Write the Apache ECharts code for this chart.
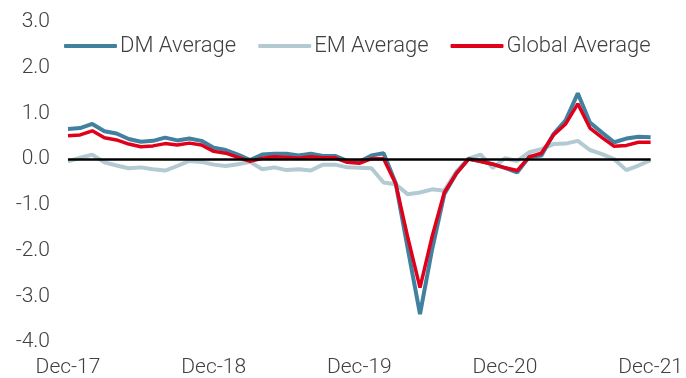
<!DOCTYPE html>
<html>
<head>
<meta charset="utf-8">
<script src="https://cdn.jsdelivr.net/npm/echarts@6/dist/echarts.min.js"></script>
<style>html,body{margin:0;padding:0;background:#fff;}#c{width:686px;height:378px;}</style>
</head>
<body>
<div id="c"></div>
<script>
// Monthly, Dec-17 .. Dec-21
var categories = [];
var monthNames = ['Jan','Feb','Mar','Apr','May','Jun','Jul','Aug','Sep','Oct','Nov','Dec'];
for (var k = 0; k < 49; k++) {
  var m = (11 + k) % 12;
  var yr = 17 + Math.floor((11 + k) / 12);
  categories.push(monthNames[m] + '-' + yr);
}
var dmAverage = [0.66,0.68,0.77,0.61,0.56,0.44,0.38,0.40,0.47,0.41,0.45,0.40,0.25,0.20,0.10,-0.02,0.10,0.12,0.12,0.08,0.12,0.07,0.07,-0.04,-0.06,0.08,0.13,-0.53,-1.97,-3.39,-1.97,-0.77,-0.31,0.01,-0.04,-0.11,-0.19,-0.29,0.05,0.08,0.55,0.85,1.44,0.80,0.58,0.37,0.45,0.49,0.48];
var emAverage = [-0.05,0.03,0.10,-0.07,-0.14,-0.20,-0.18,-0.22,-0.25,-0.15,-0.04,-0.06,-0.12,-0.15,-0.11,-0.06,-0.22,-0.18,-0.24,-0.22,-0.25,-0.12,-0.12,-0.18,-0.19,-0.20,-0.51,-0.55,-0.77,-0.73,-0.66,-0.69,-0.27,0.01,0.10,-0.19,0.02,-0.04,0.15,0.22,0.33,0.34,0.40,0.20,0.11,0.00,-0.24,-0.14,-0.02];
var globalAverage = [0.51,0.53,0.62,0.47,0.42,0.33,0.27,0.29,0.34,0.31,0.35,0.31,0.17,0.13,0.04,-0.05,0.02,0.05,0.04,0.02,0.05,0.03,0.03,-0.07,-0.09,0.01,0.01,-0.54,-1.72,-2.81,-1.69,-0.73,-0.31,0.00,-0.05,-0.11,-0.19,-0.25,0.05,0.13,0.53,0.77,1.21,0.68,0.47,0.28,0.30,0.37,0.37];
var seriesNames = ['DM Average','EM Average','Global Average'];

var FONT = 'Roboto';
var TXT = '#404040';
var chart = echarts.init(document.getElementById('c'), null, {renderer:'canvas'});
chart.setOption({
  animation: false,
  backgroundColor: '#fff',
  textStyle: {fontFamily: FONT},
  grid: {left: 68, right: 30, top: 22, bottom: 36, containLabel: false},
  legend: {
    data: seriesNames,
    left: 59, top: 30,
    icon: 'roundRect',
    itemWidth: 53, itemHeight: 4,
    itemGap: 22,
    textStyle: {fontFamily: FONT, fontSize: 22, fontWeight: 300, color: TXT, padding: [0,0,0,-2]}
  },
  xAxis: {
    type: 'category',
    data: categories,
    boundaryGap: false,
    axisLine: {show: false},
    axisTick: {show: false},
    splitLine: {show: false},
    axisLabel: {
      interval: 11,
      margin: 15,
      fontFamily: FONT, fontSize: 21, fontWeight: 300, color: TXT
    }
  },
  yAxis: {
    type: 'value',
    min: -4, max: 3, interval: 1,
    axisLine: {show: false},
    axisTick: {show: false},
    splitLine: {show: false},
    axisLabel: {
      margin: 18,
      fontFamily: FONT, fontSize: 21, fontWeight: 300, color: TXT,
      formatter: function (v) { return v.toFixed(1); }
    }
  },
  series: [
    {
      name: seriesNames[1], type: 'line', data: emAverage,
      symbol: 'none', z: 2,
      lineStyle: {color: '#b3cad3', width: 4},
      itemStyle: {color: '#b3cad3'},
      markLine: {
        silent: true, symbol: ['none','none'], label: {show: false},
        lineStyle: {color: '#000', width: 2.5, type: 'solid'},
        data: [{yAxis: 0}]
      }
    },
    {
      name: seriesNames[0], type: 'line', data: dmAverage,
      symbol: 'none', z: 3,
      lineStyle: {color: '#41809f', width: 4},
      itemStyle: {color: '#41809f'}
    },
    {
      name: seriesNames[2], type: 'line', data: globalAverage,
      symbol: 'none', z: 4,
      lineStyle: {color: '#e1001a', width: 3.5},
      itemStyle: {color: '#e1001a'}
    }
  ]
});
</script>
</body>
</html>
